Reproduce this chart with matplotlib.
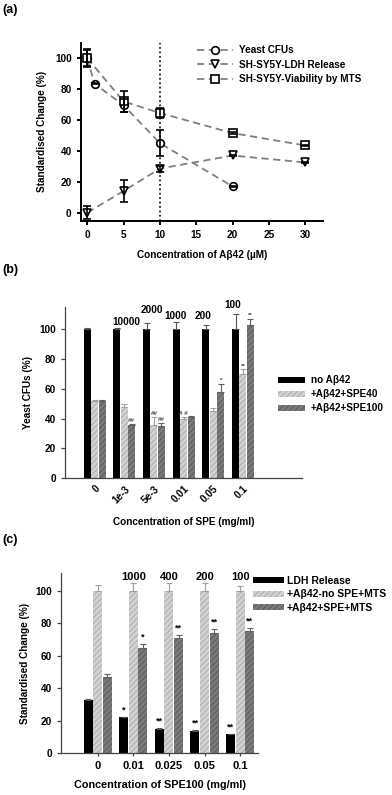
import numpy as np
import matplotlib
matplotlib.use("Agg")
import matplotlib.pyplot as plt

plt.rcParams['font.family'] = ['Liberation Sans', 'DejaVu Sans']
plt.rcParams['font.weight'] = 'bold'
plt.rcParams['axes.labelweight'] = 'bold'
plt.rcParams['hatch.linewidth'] = 0.6

# ---- panel (a) data
a_x_cfu = [0, 1, 5, 10, 20]
a_cfu = [100, 83.5, 69.5, 45, 17]
a_cfu_err = [5, 0.5, 4.3, 8.5, 0.5]
a_x_ldh = [0, 5, 10, 20, 30]
a_ldh = [0, 14, 28.5, 37, 32.5]
a_ldh_err = [4, 7, 2, 0.5, 0.5]
a_x_mts = [0, 5, 10, 20, 30]
a_mts = [100, 72, 64.5, 51.5, 43.5]
a_mts_err = [6, 7, 3, 0.5, 0.5]

# ---- panel (b) data
b_labels = ['0', '1e-3', '5e-3', '0.01', '0.05', '0.1']
b_no = [100, 100, 100, 100, 100, 100]
b_no_err = [0.4, 0.4, 4, 5, 3, 10]
b_spe40 = [51.5, 48, 36, 40, 45, 70]
b_spe40_err = [1.2, 2, 5, 1, 2, 3]
b_spe100 = [51.5, 35.5, 35, 41, 58, 103]
b_spe100_err = [1.2, 1, 2, 1, 5.5, 4]
b_folds = ['', '10000', '2000', '1000', '200', '100']
b_fold_dx = [0, 0.08, -0.08, -0.26, -0.35, -0.33]
b_fold_y = [0, 104.5, 113, 108.5, 108.5, 116]
b_marks40 = ['', '', '##', '# #', '', '**']
b_marks100 = ['', '##', '##', '', '*', '**']

# ---- panel (c) data
c_labels = ['0', '0.01', '0.025', '0.05', '0.1']
c_ldh = [32.5, 22, 15, 13.8, 11.5]
c_ldh_err = [0.8, 0.3, 0.5, 0.3, 0.3]
c_nospe = [100, 100, 100, 100, 100]
c_nospe_err = [3.5, 5, 5, 5, 3]
c_spe = [47, 65, 71, 74, 75]
c_spe_err = [2, 2.5, 2, 2.5, 2]
c_folds = ['', '1000', '400', '200', '100']
c_marks_ldh = ['', '*', '**', '**', '**']
c_marks_spe = ['', '*', '**', '**', '**']

W, H = 392, 795
fig = plt.figure(figsize=(W / 100, H / 100), dpi=100)


def px_axes(l, t, r, b):
    return fig.add_axes([l / W, 1 - b / H, (r - l) / W, (b - t) / H])


def style(ax, lw=0.9, col='#444444'):
    for s in ['top', 'right']:
        ax.spines[s].set_visible(False)
    for s in ['left', 'bottom']:
        ax.spines[s].set_linewidth(lw)
        ax.spines[s].set_color(col)
    ax.tick_params(direction='out', length=3, width=lw, color=col)


# ================= (a)
ax = px_axes(80.7, 42.7, 323.3, 220.7)
style(ax, lw=1.4, col='black')
ax.axvline(10, color='black', ls=':', lw=1.2, zorder=1)
series = [(a_x_cfu, a_cfu, a_cfu_err, 'o', 'Yeast CFUs'),
          (a_x_ldh, a_ldh, a_ldh_err, 'v', 'SH-SY5Y-LDH Release'),
          (a_x_mts, a_mts, a_mts_err, 's', 'SH-SY5Y-Viability by MTS')]
for x, y, e, m, lab in series:
    ax.plot(x, y, ls=(0, (4, 2.5)), color='#7f7f7f', lw=1.3, marker=m, ms=5.5,
            mfc='white', mec='black', mew=1.2, label=lab, zorder=3)
    ax.errorbar(x, y, yerr=e, fmt='none', ecolor='black', elinewidth=1.2,
                capsize=2.8, capthick=1.2, zorder=4)
ax.set_xlim(-0.9, 32.5)
ax.set_ylim(-5.2, 110)
ax.set_xticks([0, 5, 10, 15, 20, 25, 30])
ax.set_yticks([0, 20, 40, 60, 80, 100])
ax.tick_params(labelsize=7.2)
ax.set_xlabel('Concentration of A\u03b242 (\u00b5M)', fontsize=7.2, va='center')
ax.xaxis.set_label_coords(0.5, -0.193)
ax.set_ylabel('Standardised Change (%)', fontsize=7.2, va='center')
ax.yaxis.set_label_coords(-0.16, 0.5)
ax.legend(loc='upper left', bbox_to_anchor=(0.479, 0.985), frameon=False,
          fontsize=7.2, handlelength=3.6, handletextpad=0.6, labelspacing=0.45,
          borderpad=0, borderaxespad=0, numpoints=1)
fig.text(2 / W, 1 - 10 / H, '(a)', fontsize=9, va='center', ha='left')

# bar styling
light = dict(color='#d2d2d2', edgecolor='#a6a6a6', hatch='//////', linewidth=0)
dark = dict(color='#7a7a7a', edgecolor='#555555', hatch='//////', linewidth=0)
blk = dict(color='black', linewidth=0)

# ================= (b)
ax = px_axes(65, 306.7, 301.7, 478.3)
style(ax)
xb = np.arange(len(b_labels))
bw = 0.235
gap = 0.25
ax.bar(xb - gap, b_no, bw, label='no A\u03b242', **blk)
ax.bar(xb, b_spe40, bw, label='+A\u03b242+SPE40', **light)
ax.bar(xb + gap, b_spe100, bw, label='+A\u03b242+SPE100', **dark)
ax.errorbar(xb - gap, b_no, yerr=[np.zeros(6), b_no_err], fmt='none',
            ecolor='#555555', elinewidth=0.8, capsize=2, capthick=0.8)
ax.errorbar(xb, b_spe40, yerr=[np.zeros(6), b_spe40_err], fmt='none',
            ecolor='#a0a0a0', elinewidth=0.8, capsize=2, capthick=0.8)
ax.errorbar(xb + gap, b_spe100, yerr=[np.zeros(6), b_spe100_err], fmt='none',
            ecolor='#606060', elinewidth=0.8, capsize=2, capthick=0.8)
for i in range(len(b_labels)):
    if b_folds[i]:
        ax.text(xb[i] + b_fold_dx[i], b_fold_y[i], b_folds[i], fontsize=7.2,
                ha='center', va='center')
    if b_marks40[i]:
        ax.text(xb[i], b_spe40[i] + b_spe40_err[i] + 0.5, b_marks40[i],
                fontsize=4.5, ha='center', va='bottom', color='#444444')
    if b_marks100[i]:
        ax.text(xb[i] + gap, b_spe100[i] + b_spe100_err[i] + 0.5, b_marks100[i],
                fontsize=4.5, ha='center', va='bottom', color='#444444')
ax.set_xlim(-1, 6.98)
ax.set_ylim(0, 115)
ax.set_yticks([0, 20, 40, 60, 80, 100])
ax.set_xticks(xb)
ax.set_xticklabels(b_labels, rotation=45, ha='right', rotation_mode='anchor')
ax.tick_params(axis='x', length=0, pad=4)
ax.tick_params(labelsize=7.2)
ax.set_xlabel('Concentration of SPE (mg/ml)', fontsize=7.2, va='center')
ax.xaxis.set_label_coords(0.5, -0.253)
ax.set_ylabel('Yeast CFUs (%)', fontsize=7.2, va='center')
ax.yaxis.set_label_coords(-0.156, 0.5)
ax.legend(loc='upper left', bbox_to_anchor=(0.9, 0.6), frameon=False,
          fontsize=7.2, handlelength=2.7, handleheight=0.5, handletextpad=0.6,
          labelspacing=0.4, borderpad=0, borderaxespad=0)
fig.text(2 / W, 1 - 270 / H, '(b)', fontsize=9, va='center', ha='left')

# ================= (c)
ax = px_axes(61, 573, 258, 753)
style(ax)
xc = np.arange(len(c_labels))
bw = 0.25
gap = 0.27
ax.bar(xc - gap, c_ldh, bw, label='LDH Release', **blk)
ax.bar(xc, c_nospe, bw, label='+A\u03b242-no SPE+MTS', **light)
ax.bar(xc + gap, c_spe, bw, label='+A\u03b242+SPE+MTS', **dark)
ax.errorbar(xc - gap, c_ldh, yerr=[np.zeros(5), c_ldh_err], fmt='none',
            ecolor='#555555', elinewidth=0.8, capsize=2, capthick=0.8)
ax.errorbar(xc, c_nospe, yerr=[np.zeros(5), c_nospe_err], fmt='none',
            ecolor='#a0a0a0', elinewidth=0.8, capsize=2, capthick=0.8)
ax.errorbar(xc + gap, c_spe, yerr=[np.zeros(5), c_spe_err], fmt='none',
            ecolor='#606060', elinewidth=0.8, capsize=2, capthick=0.8)
for i in range(len(c_labels)):
    if c_folds[i]:
        ax.text(xc[i], 108.8, c_folds[i], fontsize=8, ha='center', va='center')
    if c_marks_ldh[i]:
        ax.text(xc[i] - gap, c_ldh[i] + c_ldh_err[i] + 1.5, c_marks_ldh[i],
                fontsize=6.5, ha='center', va='bottom')
    if c_marks_spe[i]:
        ax.text(xc[i] + gap, c_spe[i] + c_spe_err[i] + 1.5, c_marks_spe[i],
                fontsize=6.5, ha='center', va='bottom')
ax.set_xlim(-1.03, 4.5)
ax.set_ylim(0, 111)
ax.set_yticks([0, 20, 40, 60, 80, 100])
ax.set_xticks(xc)
ax.set_xticklabels(c_labels)
ax.tick_params(axis='x', length=2)
ax.tick_params(axis='y', labelsize=7.2)
ax.tick_params(axis='x', labelsize=8)
ax.set_xlabel('Concentration of SPE100 (mg/ml)', fontsize=7.8, va='center')
ax.xaxis.set_label_coords(0.5, -0.178)
ax.set_ylabel('Standardised Change (%)', fontsize=7.2, va='center')
ax.yaxis.set_label_coords(-0.183, 0.5)
ax.legend(loc='upper left', bbox_to_anchor=(0.973, 0.985), frameon=False,
          fontsize=7.5, handlelength=3.0, handleheight=0.5, handletextpad=0.3,
          labelspacing=0.35, borderpad=0, borderaxespad=0)
fig.text(2 / W, 1 - 540 / H, '(c)', fontsize=9, va='center', ha='left')

fig.savefig('out.png', dpi=100)
